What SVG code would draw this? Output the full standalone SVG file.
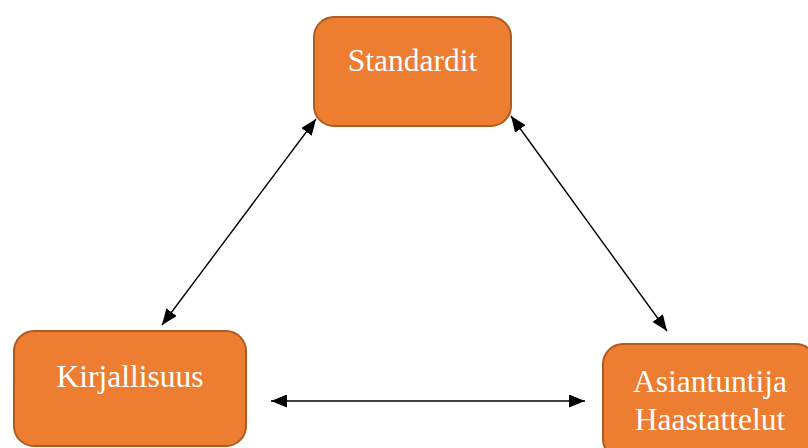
<svg xmlns="http://www.w3.org/2000/svg" width="808" height="448" viewBox="0 0 808 448">
<defs>
<marker id="ah" viewBox="0 0 16 13" refX="16" refY="6.5" markerWidth="16" markerHeight="13" markerUnits="userSpaceOnUse" orient="auto-start-reverse">
<path d="M0,0 L16,6.5 L0,13 z" fill="#000"/>
</marker>
<style>
.box{fill:#ED7D31;stroke:#AE5A21;stroke-width:2}
.lbl{font-family:"Liberation Serif","Times New Roman",serif;font-size:31.5px;fill:#fff;text-anchor:middle}
.con{stroke:#000;stroke-width:1.4;fill:none;marker-start:url(#ah);marker-end:url(#ah)}
</style>
</defs>
<rect width="808" height="448" fill="#fff"/>
<g id="connectors">
<line class="con" x1="316" y1="119" x2="162" y2="325"/>
<line class="con" x1="511" y1="116" x2="667" y2="331"/>
<line class="con" x1="271" y1="401" x2="585" y2="401"/>
</g>
<g id="standardit">
<rect class="box" x="314" y="17" width="197" height="109" rx="20"/>
<text class="lbl" x="412.5" y="71">Standardit</text>
</g>
<g id="kirjallisuus">
<rect class="box" x="14" y="331" width="232" height="115" rx="20"/>
<text class="lbl" x="130" y="387">Kirjallisuus</text>
</g>
<g id="asiantuntija">
<rect class="box" x="603" y="344" width="213" height="115" rx="20"/>
<text class="lbl" x="710" y="392">Asiantuntija</text>
<text class="lbl" x="710" y="430">Haastattelut</text>
</g>
</svg>
